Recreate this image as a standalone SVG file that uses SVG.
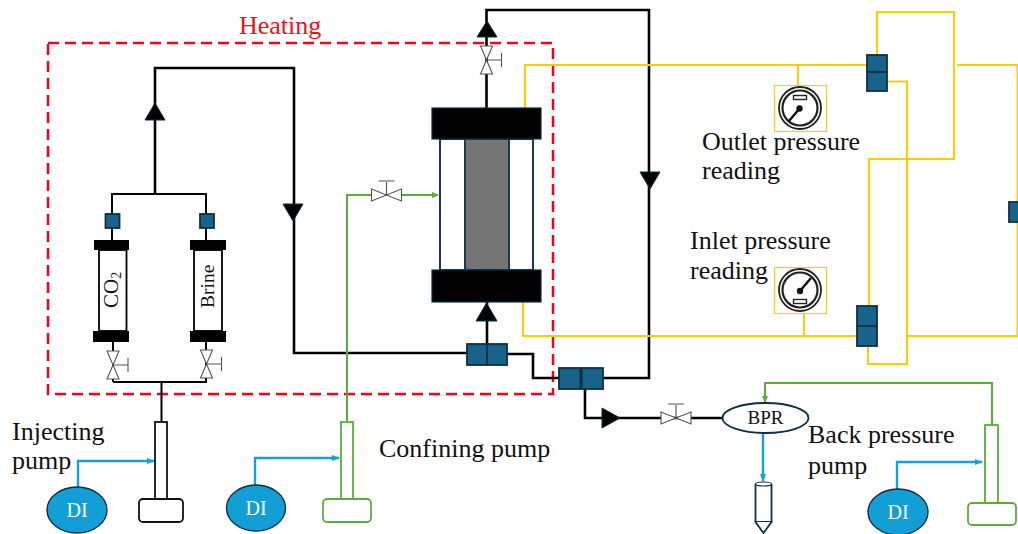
<svg xmlns="http://www.w3.org/2000/svg" width="1018" height="534" viewBox="0 0 1018 534">
<style>
text{font-family:"Liberation Serif","Times New Roman",serif;fill:#111}
.lbl{font-size:26px}
.bk{fill:none;stroke:#000;stroke-width:2.6}
.bkt{fill:none;stroke:#000;stroke-width:2}
.yel{fill:none;stroke:#fc0;stroke-width:2}
.gr{fill:none;stroke:#5aad3c;stroke-width:2}
.bl{fill:none;stroke:#17a0d8;stroke-width:2.4}
.blk{fill:#17638a;stroke:#0f2f42;stroke-width:1.8}
.cap{fill:#000;stroke:#0f2f42;stroke-width:1.2}
.tri{fill:#000;stroke:#0f2f42;stroke-width:1}
.vlv{fill:#fff;stroke:#555;stroke-width:1.1}
.di{fill:#129fd6;stroke:#0f2f42;stroke-width:1.4}
.dit{font-size:20px;fill:#fff;text-anchor:middle}
</style>
<defs>
<marker id="ag" markerWidth="7" markerHeight="6" refX="6" refY="3" orient="auto" markerUnits="userSpaceOnUse"><path d="M0 0L7 3L0 6Z" fill="#5aad3c"/></marker>
<marker id="ab" markerWidth="8" markerHeight="6" refX="7" refY="3" orient="auto" markerUnits="userSpaceOnUse"><path d="M0 0L8 3L0 6Z" fill="#17a0d8"/></marker>
<g id="valveV"><path class="vlv" d="M-6 -14H6L-6 14H6Z"/><path d="M0 0H15M15 -7V7" fill="none" stroke="#555" stroke-width="1.1"/></g>
<g id="valveH"><path class="vlv" d="M-15 -6V6L15 -6V6Z"/><path d="M0 0V-13M-8 -14H8" fill="none" stroke="#555" stroke-width="1.1"/></g>
<g id="gaugeFace"><circle r="21" fill="#fff" stroke="#222" stroke-width="1.8"/><circle r="17.500" fill="none" stroke="#222" stroke-width="2.2"/></g>
</defs>

<g id="connectors">
<rect x="48" y="43" width="505" height="351" fill="none" stroke="#fa0018" stroke-width="2.5" stroke-dasharray="11 6"/>
<path class="bk" d="M155 194V68H294V353H467"/>
<path class="bkt" d="M112 214V194H206V214M112 228V240M206 228V240M113 342V382M206 342V382M113 382H207M161.500 382V422"/>
<path class="bk" d="M507 354H533V378H559M603 378H649V10H486.500V108M487 302V344M585 389V418H722"/>
<path class="yel" d="M525 108V65H868M798 65V85M877 55V12H954V159H869V306M887 81.500H907V364H868V346M957 65H1017.500V202M1017.500 222V336H907M523 302V336H857M804 313V336"/>
<path class="gr" d="M347 422V195H438" marker-end="url(#ag)"/>
<path class="gr" d="M992 425V383H765V402" marker-end="url(#ag)"/>
<path class="bl" d="M78 487V461H154" marker-end="url(#ab)"/>
<path class="bl" d="M255 485V458H339" marker-end="url(#ab)"/>
<path class="bl" d="M897 489V462H982" marker-end="url(#ab)"/>
<path class="bl" d="M763 433V481" marker-end="url(#ab)"/>
<path class="tri" d="M155 103L165 120H145Z"/>
<path class="tri" d="M293 221L283 204H303Z"/>
<path class="tri" d="M650 189L640 172H660Z"/>
<path class="tri" d="M487 21L497 37H477Z"/>
<path class="tri" d="M486.500 303L497 321H476Z"/>
<path class="tri" d="M620 418L602 408V428Z"/>
</g>

<g id="heating-label"><text x="239" y="34" class="lbl" style="fill:#f01020">Heating</text></g>

<g id="co2-vessel">
<rect class="blk" x="105.500" y="214" width="14" height="14"/>
<rect x="99" y="250" width="27.500" height="81" fill="#fff" stroke="#000" stroke-width="1.8"/>
<rect x="94" y="240" width="35" height="10" fill="#000"/>
<rect x="93" y="331" width="36" height="11" fill="#000"/>
<text transform="translate(118 308) rotate(-90)" font-size="21">CO<tspan font-size="14" dy="3">2</tspan></text>
<use href="#valveV" x="113" y="365"/>
</g>
<g id="brine-vessel">
<rect class="blk" x="200" y="214" width="14" height="14"/>
<rect x="194" y="250" width="28" height="81" fill="#fff" stroke="#000" stroke-width="1.8"/>
<rect x="190" y="240" width="36" height="10" fill="#000"/>
<rect x="190" y="331" width="36" height="11" fill="#000"/>
<text transform="translate(214 308) rotate(-90)" font-size="19.500">Brine</text>
<use href="#valveV" x="206.500" y="364"/>
</g>

<g id="core-holder">
<rect x="440" y="139" width="93" height="131" fill="#fff" stroke="#1c3a4d" stroke-width="2"/>
<rect x="465" y="139" width="44" height="131" fill="#757575" stroke="#1c3a4d" stroke-width="2"/>
<rect class="cap" x="432" y="108" width="109" height="31"/>
<rect class="cap" x="432" y="270" width="109" height="32"/>
</g>
<g id="valve-top"><use href="#valveV" x="486.500" y="60"/></g>
<g id="valve-confining"><use href="#valveH" x="386.500" y="195"/></g>
<g id="valve-outlet"><use href="#valveH" x="676" y="418"/></g>

<g id="block-1"><rect class="blk" x="467" y="344" width="40" height="21"/><path class="blk" d="M487 344V365"/></g>
<g id="block-2"><rect class="blk" x="559" y="368" width="44" height="21"/><path d="M581 368V389" stroke="#0f2f42" stroke-width="3"/></g>
<g id="block-3"><rect class="blk" x="867" y="55" width="20" height="36"/><path class="blk" d="M867 72H887"/></g>
<g id="block-4"><rect class="blk" x="857" y="306" width="20" height="40"/><path class="blk" d="M857 326H877"/></g>
<g id="block-5"><rect class="blk" x="1009" y="202" width="12" height="20"/></g>

<g id="outlet-gauge">
<rect x="774.500" y="85.500" width="52" height="46" fill="#fff" stroke="#fc0" stroke-width="1.2"/>
<use href="#gaugeFace" x="800" y="108"/>
<rect x="793.500" y="95.500" width="13" height="4" fill="#fff" stroke="#222" stroke-width="1.4"/>
<path d="M800 108L789 121" stroke="#111" stroke-width="2.4"/><circle cx="799.500" cy="108.500" r="3.200" fill="#111"/>
</g>
<g id="inlet-gauge">
<rect x="774.500" y="267.500" width="52" height="46" fill="#fff" stroke="#fc0" stroke-width="1.2"/>
<use href="#gaugeFace" x="800" y="290"/>
<rect x="793.500" y="299.500" width="13" height="4" fill="#fff" stroke="#222" stroke-width="1.4"/>
<path d="M800 291L811 278" stroke="#111" stroke-width="2.4"/><circle cx="800" cy="291" r="3.200" fill="#111"/>
</g>
<g id="outlet-label"><text class="lbl" x="702" y="150">Outlet pressure</text><text class="lbl" x="702" y="179">reading</text></g>
<g id="inlet-label"><text class="lbl" x="690" y="249">Inlet pressure</text><text class="lbl" x="690" y="279">reading</text></g>

<g id="bpr"><ellipse cx="765.500" cy="418" rx="43" ry="15" fill="#fff" stroke="#0f2f42" stroke-width="1.8"/><text x="765.500" y="424" font-size="19" text-anchor="middle">BPR</text></g>
<g id="collector"><path d="M755.500 484V522H771.500V484" fill="#fff" stroke="#0f2f42" stroke-width="1.8"/><ellipse cx="763.500" cy="484" rx="8" ry="2" fill="#fff" stroke="#0f2f42" stroke-width="1.2"/><path d="M755.500 522L763.500 533L771.500 522" fill="#fff" stroke="#0f2f42" stroke-width="1.8"/></g>
<g id="back-label"><text class="lbl" x="808" y="443">Back pressure</text><text class="lbl" x="808" y="474">pump</text></g>

<g id="injecting-pump">
<rect x="155" y="422" width="12" height="77" fill="#fff" stroke="#111" stroke-width="1.8"/>
<rect x="139" y="499" width="44" height="23" rx="4" fill="#fff" stroke="#111" stroke-width="1.8"/>
<ellipse class="di" cx="77" cy="510" rx="30" ry="23"/><text class="dit" x="77" y="517">DI</text>
<text class="lbl" x="12" y="440">Injecting</text><text class="lbl" x="12" y="469">pump</text>
</g>
<g id="confining-pump">
<rect x="341" y="422" width="12" height="77" fill="#fff" stroke="#5aad3c" stroke-width="1.8"/>
<rect x="323" y="499" width="48" height="23" rx="4" fill="#fff" stroke="#5aad3c" stroke-width="1.8"/>
<ellipse class="di" cx="256" cy="508" rx="29.500" ry="23"/><text class="dit" x="256" y="515">DI</text>
<text class="lbl" x="379" y="457">Confining pump</text>
</g>
<g id="back-pump">
<rect x="985" y="425" width="13" height="78" fill="#fff" stroke="#5aad3c" stroke-width="1.8"/>
<rect x="968" y="503" width="48" height="22" rx="4" fill="#fff" stroke="#5aad3c" stroke-width="1.8"/>
<ellipse class="di" cx="898" cy="512" rx="30" ry="23"/><text class="dit" x="898" y="519">DI</text>
</g>
</svg>
